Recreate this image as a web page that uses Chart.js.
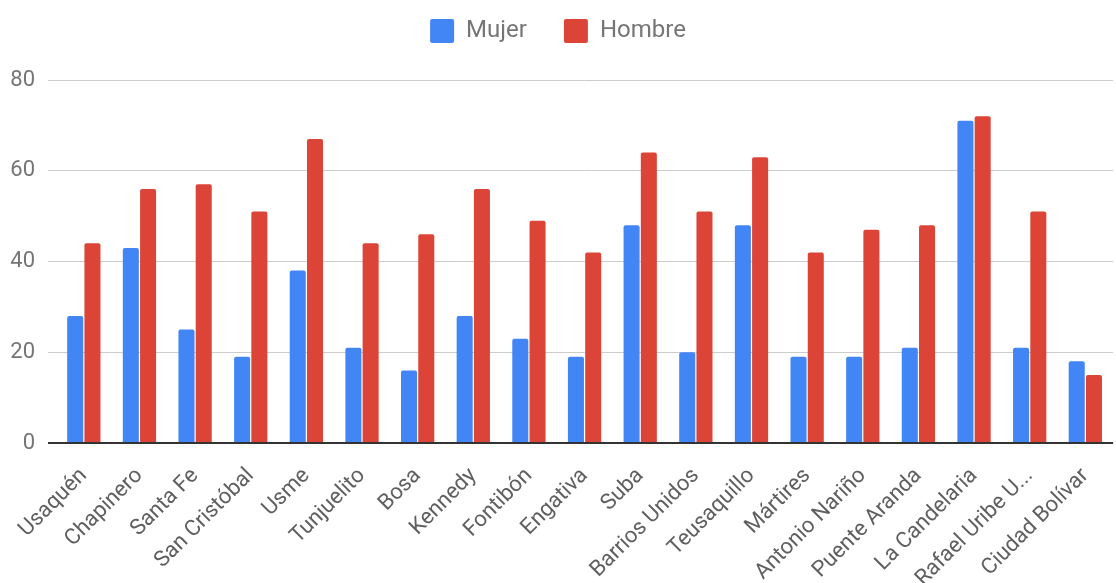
<!DOCTYPE html>
<html>
<head>
<meta charset="utf-8">
<script src="https://cdn.jsdelivr.net/npm/chart.js@4/dist/chart.umd.min.js"></script>
<style>
  html, body { margin: 0; padding: 0; background: #fff; }
  #wrap { width: 1116px; height: 583px; }
</style>
</head>
<body>
<div id="wrap"><canvas id="chart"></canvas></div>
<script>
const localidades = [
  'Usaquén', 'Chapinero', 'Santa Fe', 'San Cristóbal', 'Usme', 'Tunjuelito',
  'Bosa', 'Kennedy', 'Fontibón', 'Engativa', 'Suba', 'Barrios Unidos',
  'Teusaquillo', 'Mártires', 'Antonio Nariño', 'Puente Aranda',
  'La Candelaria', 'Rafael Uribe U...', 'Ciudad Bolívar'
];
const mujer = [28, 43, 25, 19, 38, 21, 16, 28, 23, 19, 48, 20, 48, 19, 19, 21, 71, 21, 18];
const hombre = [44, 56, 57, 51, 67, 44, 46, 56, 49, 42, 64, 51, 63, 42, 47, 48, 72, 51, 15];
const yTicks = [0, 20, 40, 60, 80];

const ctx = document.getElementById('chart').getContext('2d');

// push the plot down below the legend, like the original
const legendGap = {
  id: 'legendGap',
  beforeInit(chart) {
    const fit = chart.legend.fit;
    chart.legend.fit = function () {
      fit.call(this);
      this.height = 98;
    };
  }
};

const chart = new Chart(ctx, {
  type: 'bar',
  data: {
    labels: localidades,
    datasets: [
      { label: 'Mujer', data: mujer, backgroundColor: '#4285F4' },
      { label: 'Hombre', data: hombre, backgroundColor: '#DB4437' }
    ]
  },
  options: {
    responsive: true,
    maintainAspectRatio: false,
    animation: false,
    layout: { padding: { top: -18, right: 0, left: 0, bottom: 0 } },
    datasets: {
      bar: {
        categoryPercentage: 0.62,
        barPercentage: 0.93,
        borderRadius: 2,
        borderSkipped: 'bottom'
      }
    },
    plugins: {
      legend: {
        position: 'top',
        labels: {
          font: { family: 'Roboto', size: 24 },
          color: '#757575',
          boxWidth: 24,
          boxHeight: 24,
          useBorderRadius: true,
          borderRadius: 2,
          padding: 37
        }
      },
      tooltip: { enabled: false }
    },
    scales: {
      x: {
        grid: { display: false },
        border: { display: false },
        ticks: {
          autoSkip: false,
          minRotation: 45,
          maxRotation: 45,
          padding: 12,
          color: '#5f5f5f',
          font: { family: 'Roboto', size: 22 }
        },
        afterFit: (scale) => { scale.height = 140; }
      },
      y: {
        min: 0,
        max: 80,
        afterBuildTicks: (scale) => { scale.ticks = yTicks.map(v => ({ value: v })); },
        border: { display: false },
        grid: {
          color: (c) => c.tick && c.tick.value === 0 ? '#333333' : '#cccccc',
          lineWidth: (c) => c.tick && c.tick.value === 0 ? 2 : 1,
          tickLength: 8
        },
        ticks: {
          padding: 13,
          color: '#757575',
          font: { family: 'Roboto', size: 22 }
        },
        afterFit: (scale) => { scale.width = 56; }
      }
    }
  },
  plugins: [legendGap]
});
</script>
</body>
</html>
